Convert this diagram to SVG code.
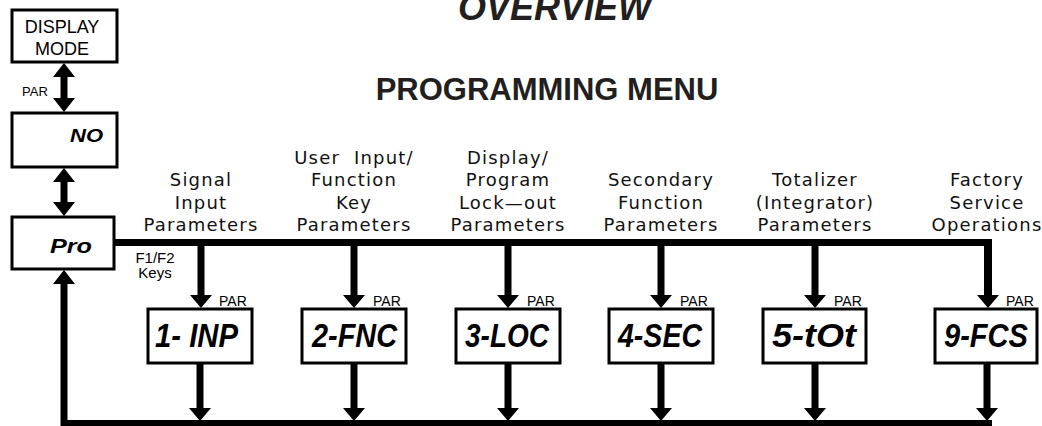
<svg xmlns="http://www.w3.org/2000/svg" width="1042" height="426" viewBox="0 0 1042 426">
<style>
.box{fill:#fff;stroke:#000;stroke-width:3}
.bar{fill:#000}
.title{font-family:"Liberation Sans",Arial,sans-serif;font-weight:bold;fill:#231f20}
.lbl{font-family:"DejaVu Sans","Liberation Sans",sans-serif;font-size:18px;letter-spacing:1.2px;text-anchor:middle;fill:#111}
.sm{font-family:"Liberation Sans",Arial,sans-serif;fill:#000}
.seg{font-family:"Liberation Sans",Arial,sans-serif;font-weight:bold;font-style:italic;fill:#000}
</style>
<rect width="1042" height="426" fill="#fff"/>
<text class="title" x="555" y="20" font-size="36" font-style="italic" text-anchor="middle">OVERVIEW</text>
<text class="title" x="547" y="100" font-size="31" text-anchor="middle">PROGRAMMING MENU</text>

<g id="connectors">
<path class="bar" d="M64,63 L75,77 L67.5,77 L67.5,98 L75,98 L64,112 L53,98 L60.5,98 L60.5,77 L53,77 Z"/>
<path class="bar" d="M64,168 L75,182 L67.5,182 L67.5,202 L75,202 L64,216 L53,202 L60.5,202 L60.5,182 L53,182 Z"/>
<path class="bar" d="M64,270 L75,284 L67.5,284 L67.5,420 L992,420 L992,427 L60.5,427 L60.5,284 L53,284 Z"/>
<rect class="bar" x="113" y="239" width="879" height="7"/>
<path class="bar" d="M197.5,246 L204.5,246 L204.5,295 L212,295 L201,308 L190,295 L197.5,295 Z"/>
<path class="bar" d="M350.5,246 L357.5,246 L357.5,295 L365,295 L354,308 L343,295 L350.5,295 Z"/>
<path class="bar" d="M504.5,246 L511.5,246 L511.5,295 L519,295 L508,308 L497,295 L504.5,295 Z"/>
<path class="bar" d="M657.5,246 L664.5,246 L664.5,295 L672,295 L661,308 L650,295 L657.5,295 Z"/>
<path class="bar" d="M811.5,246 L818.5,246 L818.5,295 L826,295 L815,308 L804,295 L811.5,295 Z"/>
<path class="bar" d="M984,239 L992,239 L992,295 L999,295 L988,308 L977,295 L984,295 Z"/>
<path class="bar" d="M196.5,363 L203.5,363 L203.5,408 L211,408 L200,421 L189,408 L196.5,408 Z"/>
<path class="bar" d="M350.5,363 L357.5,363 L357.5,408 L365,408 L354,421 L343,408 L350.5,408 Z"/>
<path class="bar" d="M504.5,363 L511.5,363 L511.5,408 L519,408 L508,421 L497,408 L504.5,408 Z"/>
<path class="bar" d="M657.5,363 L664.5,363 L664.5,408 L672,408 L661,421 L650,408 L657.5,408 Z"/>
<path class="bar" d="M811.5,363 L818.5,363 L818.5,408 L826,408 L815,421 L804,408 L811.5,408 Z"/>
<path class="bar" d="M983.5,363 L990.5,363 L990.5,408 L998,408 L987,421 L976,408 L983.5,408 Z"/>
<text class="sm" x="22" y="96" font-size="13">PAR</text>
<text class="sm" x="155" y="263" font-size="15" text-anchor="middle">F1/F2</text>
<text class="sm" x="155" y="278" font-size="15" text-anchor="middle">Keys</text>
<text class="sm" x="219" y="306" font-size="14">PAR</text>
<text class="sm" x="373" y="306" font-size="14">PAR</text>
<text class="sm" x="527" y="306" font-size="14">PAR</text>
<text class="sm" x="680" y="306" font-size="14">PAR</text>
<text class="sm" x="834" y="306" font-size="14">PAR</text>
<text class="sm" x="1006" y="306" font-size="14">PAR</text>
</g>

<g id="display-mode">
<rect class="box" x="12" y="10" width="105" height="52"/>
<text class="sm" x="62" y="33" font-size="18" text-anchor="middle">DISPLAY</text>
<text class="sm" x="62" y="55" font-size="18" text-anchor="middle">MODE</text>
</g>
<g id="no">
<rect class="box" x="12" y="113" width="105" height="54"/>
<text class="seg" x="70" y="142" font-size="19" textLength="33" lengthAdjust="spacingAndGlyphs">NO</text>
</g>
<g id="pro">
<rect class="box" x="12" y="217" width="102" height="52"/>
<text class="seg" x="50" y="253" font-size="21" textLength="42" lengthAdjust="spacingAndGlyphs">Pro</text>
</g>

<g id="signal-input">
<text class="lbl" x="201" y="186">Signal</text>
<text class="lbl" x="201" y="208.5">Input</text>
<text class="lbl" x="201" y="231">Parameters</text>
<rect class="box" x="148" y="309" width="104" height="54"/>
<text class="seg" x="155" y="347" font-size="33" textLength="83" lengthAdjust="spacingAndGlyphs">1- INP</text>
</g>
<g id="user-input">
<text class="lbl" x="354" y="163.5" xml:space="preserve">User  Input/</text>
<text class="lbl" x="354" y="186">Function</text>
<text class="lbl" x="354" y="208.5">Key</text>
<text class="lbl" x="354" y="231">Parameters</text>
<rect class="box" x="302" y="309" width="104" height="54"/>
<text class="seg" x="312" y="347" font-size="33" textLength="85" lengthAdjust="spacingAndGlyphs">2-FNC</text>
</g>
<g id="display-lockout">
<text class="lbl" x="508" y="163.5">Display/</text>
<text class="lbl" x="508" y="186">Program</text>
<text class="lbl" x="508" y="208.5">Lock—out</text>
<text class="lbl" x="508" y="231">Parameters</text>
<rect class="box" x="456" y="309" width="104" height="54"/>
<text class="seg" x="465" y="347" font-size="33" textLength="84" lengthAdjust="spacingAndGlyphs">3-LOC</text>
</g>
<g id="secondary">
<text class="lbl" x="661" y="186">Secondary</text>
<text class="lbl" x="661" y="208.5">Function</text>
<text class="lbl" x="661" y="231">Parameters</text>
<rect class="box" x="609" y="309" width="104" height="54"/>
<text class="seg" x="618" y="347" font-size="33" textLength="84" lengthAdjust="spacingAndGlyphs">4-SEC</text>
</g>
<g id="totalizer">
<text class="lbl" x="815" y="186">Totalizer</text>
<text class="lbl" x="815" y="208.5">(Integrator)</text>
<text class="lbl" x="815" y="231">Parameters</text>
<rect class="box" x="763" y="309" width="103" height="54"/>
<text class="seg" x="772" y="347" font-size="33" textLength="84" lengthAdjust="spacingAndGlyphs">5-tOt</text>
</g>
<g id="factory">
<text class="lbl" x="987" y="186">Factory</text>
<text class="lbl" x="987" y="208.5">Service</text>
<text class="lbl" x="987" y="231">Operations</text>
<rect class="box" x="935" y="309" width="102" height="54"/>
<text class="seg" x="944" y="347" font-size="33" textLength="84" lengthAdjust="spacingAndGlyphs">9-FCS</text>
</g>
</svg>
